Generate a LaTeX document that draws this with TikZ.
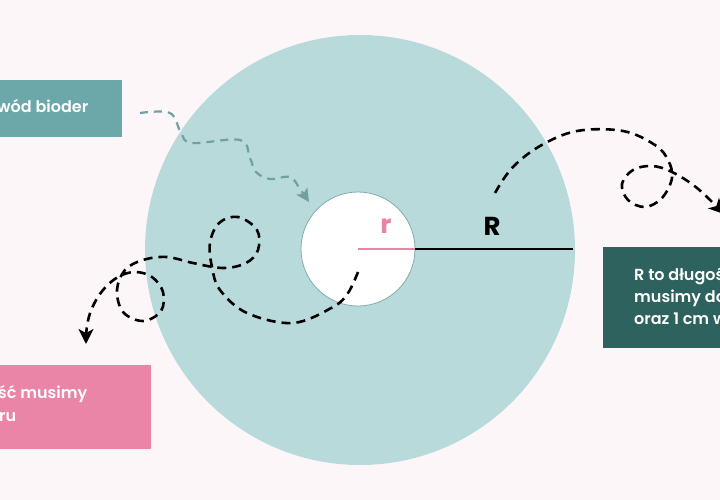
\documentclass[tikz,border=0pt]{standalone}
\usepackage{fontspec}
\setmainfont{Poppins}
\newfontfamily\medfont{Poppins SemiBold}
\usetikzlibrary{arrows.meta,positioning}
\definecolor{bgpink}{RGB}{252,246,249}
\definecolor{discblue}{RGB}{184,218,219}
\definecolor{ringgray}{RGB}{128,172,172}
\definecolor{boxteal}{RGB}{108,168,170}
\definecolor{boxpink}{RGB}{234,133,167}
\definecolor{boxgreen}{RGB}{46,98,94}
\definecolor{rpink}{RGB}{231,133,165}
\definecolor{dashteal}{RGB}{112,160,160}
\tikzset{
  boxtext/.style={white, font=\medfont\fontsize{16}{22}\selectfont, inner sep=0pt, anchor=base west},
  blackdash/.style={black, line width=2.6pt, dash pattern=on 9pt off 6pt, -{Stealth[length=15pt,width=15pt,inset=4pt]}},
  tealdash/.style={dashteal, line width=2.2pt, dash pattern=on 8pt off 6pt, -{Stealth[length=13pt,width=13pt,inset=3pt]}}
}
\begin{document}
\begin{tikzpicture}[x=1pt,y=-1pt]
        \useasboundingbox (0,0) rectangle (720,500);
        \fill[bgpink] (0,0) rectangle (720,500);
        \clip (0,0) rectangle (720,500);
        % Draw the big disc and the hole
        \fill[discblue] (360,250) circle (215);
        \draw[ringgray, fill=white, line width=0.8pt] (358,249) circle (57);
        \coordinate (c) at (358,249);
        \coordinate (rim) at (415,249);
        \coordinate (edge) at (573,249);
        \draw[rpink, line width=2.6pt] (c) -- (rim);
        \draw[black, line width=2.6pt] (rim) -- (edge);
        \node[rpink, font=\bfseries\fontsize{26}{26}\selectfont] (rlab) at (386,226) {r};
        \node[black, font=\bfseries\fontsize{26}{26}\selectfont] (Rlab) at (492,226) {R};
        % the three boxes
        \fill[boxteal] (0,80) rectangle (122,137);
        \fill[boxpink] (0,365) rectangle (151,449);
        \fill[boxgreen] (603,247) rectangle (720,348);
        \node[boxtext] (hiptxt) at (-3,113) {wód bioder};
        \node[boxtext] (pinkl1) at (-2,398) {ść musimy};
        \node[boxtext] (pinkl2) at (-1,421) {ru};
        \node[boxtext] (greenl1) at (634,280) {R to długoś};
        \node[boxtext] (greenl2) at (634,302) {musimy do};
        \node[boxtext] (greenl3) at (634,324) {oraz 1 cm w};
        % dashed arrows
        \coordinate (tstart) at (140,113);
        \coordinate (tend) at (309,202);
        \draw[tealdash] plot[smooth, tension=0.6] coordinates {(tstart) (170,113) (181,133) (192,143) (240,140) (250,158) (256,172) (270,179) (290,177) (300,189) (tend)};
        \coordinate (lstart) at (358,272);
        \coordinate (lend) at (86,344);
        \draw[blackdash] plot[smooth, tension=0.6] coordinates {(lstart) (348,293) (333,307) (293,323) (247,313) (220,290) (212,267) (210,243) (219,223) (238,217) (257,230) (258,250) (246,263) (223,268) (193,263) (167,257) (143,260) (125,270) (117,290) (123,312) (143,321) (161,311) (163,292) (152,277) (135,272) (118,277) (103,290) (92,308) (87,326) (lend)};
        \coordinate (rstart) at (495,193);
        \coordinate (rend) at (724,214);
        \draw[blackdash] plot[smooth, tension=0.6] coordinates {(rstart) (512,168) (540,146) (577,131) (623,131) (655,145) (668,160) (672,178) (662,198) (645,207) (628,200) (622,184) (633,170) (652,166) (672,172) (697,188) (rend)};
\end{tikzpicture}
\end{document}
